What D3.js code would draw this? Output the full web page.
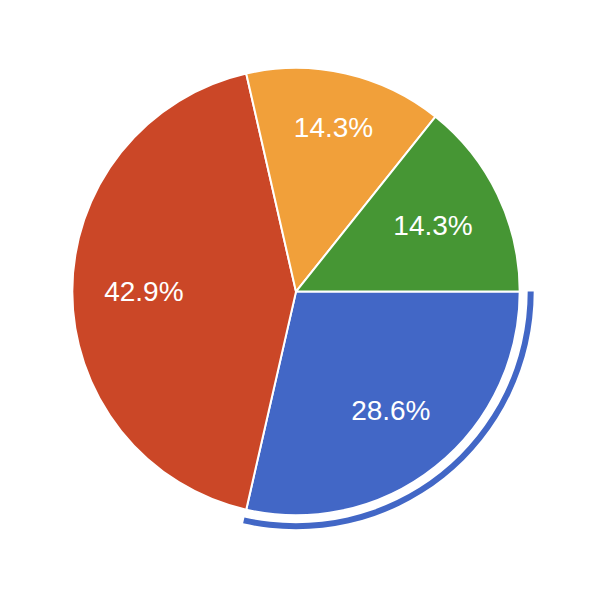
<!DOCTYPE html>
<html>
    <head>
        <script src="https://d3js.org/d3.v7.min.js"></script>
        <style>
            body { margin: 0; background: #fff; }
        </style>
    </head>

    <body>
        <div id="target"></div>

        <script>
            // chart data
            var categories = ['A', 'B', 'C', 'D'];
            var values = [2, 3, 1, 1];
            var colors = ['#4267c6', '#cb4727', '#f1a03a', '#469634'];
            var selected = 0;

            var width = 590, height = 591;
            var cx = 296, cy = 291.6, radius = 223.7;

            var svg = d3.select('#target')
                .append('svg')
                .attr('width', width)
                .attr('height', height);

            var g = svg.append('g')
                .attr('transform', 'translate(' + cx + ',' + cy + ')');

            var total = d3.sum(values);

            var pie = d3.pie()
                .sort(null)
                .startAngle(Math.PI / 2)
                .endAngle(Math.PI / 2 + 2 * Math.PI);

            var arcs = pie(values);

            var arc = d3.arc()
                .innerRadius(0)
                .outerRadius(radius);

            g.selectAll('path.slice')
                .data(arcs)
                .enter()
                .append('path')
                .attr('class', 'slice')
                .attr('d', arc)
                .attr('fill', function(d, i) { return colors[i]; })
                .attr('stroke', '#fff')
                .attr('stroke-width', 2)
                .attr('stroke-linejoin', 'round');

            // selection ring round the chosen slice
            var ring = d3.arc()
                .innerRadius(radius + 8)
                .outerRadius(radius + 14);

            g.append('path')
                .datum(arcs[selected])
                .attr('d', ring)
                .attr('fill', colors[selected]);

            // labels
            var fmt = function(v) { return (v / total * 100).toFixed(1) + '%'; };

            var labels = g.selectAll('text.lbl')
                .data(arcs)
                .enter()
                .append('text')
                .attr('class', 'lbl')
                .attr('text-anchor', 'middle')
                .attr('dy', '0.35em')
                .attr('fill', '#fff')
                .style('font-family', 'Arial, "Liberation Sans", sans-serif')
                .style('font-size', '28px')
                .text(function(d) { return fmt(d.data); });

            // how far the label box stays inside its wedge
            function clearance(d, px, py, w, h) {
                var a0 = d.startAngle, a1 = d.endAngle;
                var u0 = [Math.sin(a0), -Math.cos(a0)], u1 = [Math.sin(a1), -Math.cos(a1)];
                var corners = [[px - w/2, py - h/2], [px + w/2, py - h/2], [px - w/2, py + h/2], [px + w/2, py + h/2]];
                var best = Infinity;
                corners.forEach(function(c) {
                    var r = Math.hypot(c[0], c[1]);
                    var c0 = u0[0] * c[1] - u0[1] * c[0];
                    var c1 = u1[1] * c[0] - u1[0] * c[1];
                    var m = Math.min(radius - r, c0, c1);
                    if (m < best) best = m;
                });
                return best;
            }

            var labelR = radius * 0.68;
            labels.each(function(d) {
                var bb = this.getBBox();
                var w = bb.width, h = bb.height * 0.72;
                var mid = (d.startAngle + d.endAngle) / 2;
                var sx = Math.sin(mid), sy = -Math.cos(mid);
                var r = labelR;
                // tight fit -> slide out along the bisector to the roomiest spot
                if (clearance(d, sx * r, sy * r, w, h) < 27) {
                    var bestC = -Infinity, bestR = r;
                    for (var t = labelR; t <= radius; t += 0.5) {
                        var c = clearance(d, sx * t, sy * t, w, h);
                        if (c > bestC) { bestC = c; bestR = t; }
                    }
                    r = bestR;
                }
                d3.select(this).attr('x', sx * r).attr('y', sy * r);
            });
        </script>
    </body>
</html>
